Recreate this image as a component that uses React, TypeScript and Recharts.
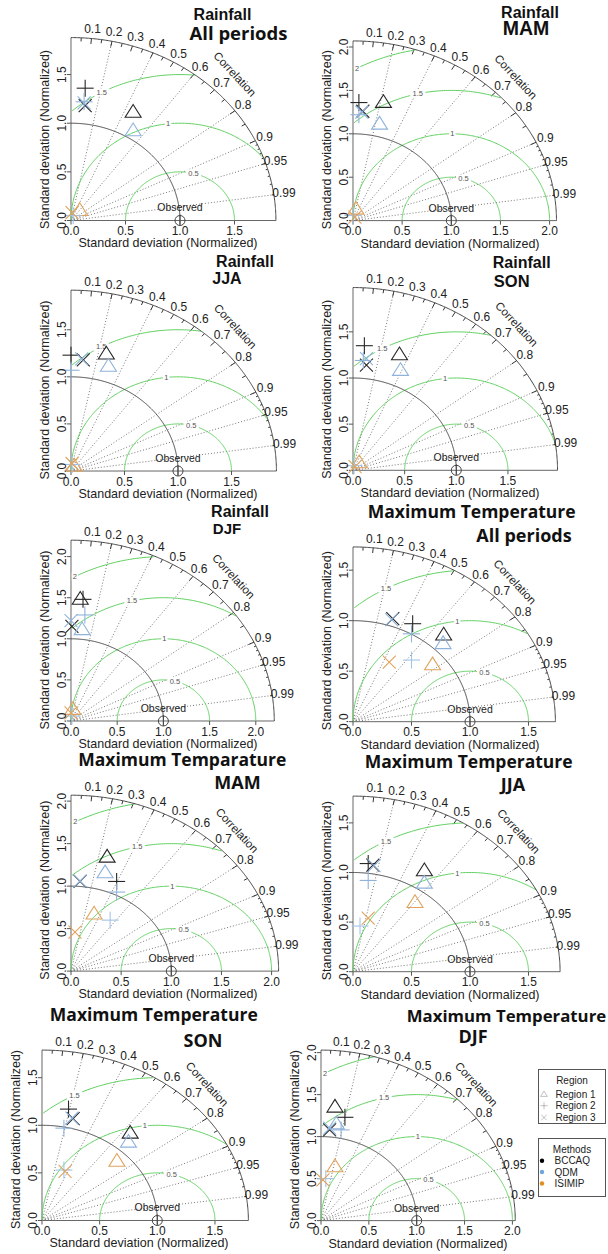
import React from 'react';
import { ComposedChart, XAxis, YAxis, Line, Scatter, ReferenceLine } from 'recharts';

type Pt = [number, number] | null;

// normalised sd components: Region 1 (triangle), Region 2 (plus), Region 3 (cross)
const rainAllBccaq: Pt[] = [[0.57, 1.12], [0.13, 1.36], [0.13, 1.18]];
const rainAllQdm: Pt[] = [[0.57, 0.93], [0.12, 1.22], [0.12, 1.21]];
const rainAllIsimip: Pt[] = [[0.08, 0.11], [0.02, 0.05], [0.01, 0.08]];

const rainMamBccaq: Pt[] = [[0.31, 1.37], [0.06, 1.36], [0.1, 1.26]];
const rainMamQdm: Pt[] = [[0.27, 1.12], [0.06, 1.22], [0.09, 1.25]];
const rainMamIsimip: Pt[] = [[0.03, 0.14], [0.0, 0.06], [0.02, 0.04]];

const rainJjaBccaq: Pt[] = [[0.33, 1.25], [0.0, 1.23], [0.115, 1.18]];
const rainJjaQdm: Pt[] = [[0.35, 1.12], [0.0, 1.07], [0.1, 1.19]];
const rainJjaIsimip: Pt[] = [[0.03, 0.06], [0.01, 0.07], [0.01, 0.08]];

const rainSonBccaq: Pt[] = [[0.45, 1.26], [0.11, 1.35], [0.13, 1.14]];
const rainSonQdm: Pt[] = [[0.46, 1.09], [0.1, 1.19], [0.13, 1.21]];
const rainSonIsimip: Pt[] = [[0.06, 0.09], [0.01, 0.05], [0.02, 0.04]];

const rainDjfBccaq: Pt[] = [[0.1, 1.49], [0.13, 1.48], [0.01, 1.15]];
const rainDjfQdm: Pt[] = [[0.12, 1.12], [0.15, 1.29], [0.0, 1.22]];
const rainDjfIsimip: Pt[] = [[0.02, 0.15], [0.01, 0.06], [0.0, 0.1]];

const tmaxAllBccaq: Pt[] = [[0.775, 0.865], [0.51, 0.97], [0.34, 1.02]];
const tmaxAllQdm: Pt[] = [[0.77, 0.78], [0.5, 0.87], [0.33, 1.01]];
const tmaxAllIsimip: Pt[] = [[0.68, 0.57], [0.5, 0.61], [0.31, 0.59]];

const tmaxMamBccaq: Pt[] = [[0.36, 1.35], [0.455, 1.055], [0.09, 1.055]];
const tmaxMamQdm: Pt[] = [[0.34, 1.165], [0.455, 0.93], [0.09, 1.06]];
const tmaxMamIsimip: Pt[] = [[0.23, 0.68], [0.39, 0.6], [0.04, 0.46]];

const tmaxJjaBccaq: Pt[] = [[0.61, 1.025], [0.13, 1.09], [0.17, 1.075]];
const tmaxJjaQdm: Pt[] = [[0.61, 0.9], [0.13, 0.92], [0.18, 1.07]];
const tmaxJjaIsimip: Pt[] = [[0.53, 0.705], [0.06, 0.46], [0.13, 0.54]];

const tmaxSonBccaq: Pt[] = [[0.765, 0.925], [0.23, 1.17], [0.27, 1.07]];
const tmaxSonQdm: Pt[] = [[0.75, 0.83], [0.19, 0.97], [0.26, 1.075]];
const tmaxSonIsimip: Pt[] = [[0.65, 0.63], [0.19, 0.53], [0.2, 0.515]];

const tmaxDjfBccaq: Pt[] = [[0.146, 1.36], [0.25, 1.23], [0.09, 1.08]];
const tmaxDjfQdm: Pt[] = [[0.16, 1.16], [0.21, 1.08], [0.09, 1.1]];
const tmaxDjfIsimip: Pt[] = [[0.146, 0.65], [0.05, 0.5], [0.02, 0.485]];

const corrLabels = [0.1, 0.2, 0.3, 0.4, 0.5, 0.6, 0.7, 0.8, 0.9, 0.95, 0.99];
const corrBig = [0.1, 0.2, 0.3, 0.4, 0.5, 0.6, 0.7, 0.8, 0.9];
const corrMed = [0.05, 0.15, 0.25, 0.35, 0.45, 0.55, 0.65, 0.75, 0.85, 0.95];
const corrSmall = [0.91, 0.92, 0.93, 0.94, 0.95, 0.96, 0.97, 0.98, 0.99];
const corrRays = [0.2, 0.4, 0.6, 0.8, 0.9, 0.95, 0.99];

const regionNames = ['Region 1', 'Region 2', 'Region 3'];
const methodNames = ['BCCAQ', 'QDM', 'ISIMIP'];

const FONT = '"Liberation Sans", Arial, sans-serif';
const TITLE_FONT = '"Open Sans", "Noto Sans", sans-serif';
const GREEN = '#5fcf5f';
const markerColors = [
  ['#262626', '#262626', '#262626'],
  ['#8fb3db', '#8fb3db', '#8fb3db'],
  ['#e0a25c', '#a3c3e6', '#e0a25c'],
];
const legendDots = ['#000000', '#6fa6dc', '#e08e1f'];

const panels = [
  { ox: 71, oy: 220.7, sx: 109, sy: 97.3, max: 1.88, ticks: [0, 0.5, 1, 1.5], gammas: [0.5, 1, 1.5], series: [rainAllBccaq, rainAllQdm, rainAllIsimip] },
  { ox: 353.3, oy: 220.7, sx: 98.3, sy: 86.8, max: 2.07, ticks: [0, 0.5, 1, 1.5, 2], gammas: [0.5, 1, 1.5, 2], series: [rainMamBccaq, rainMamQdm, rainMamIsimip] },
  { ox: 71, oy: 470.7, sx: 107, sy: 94.2, max: 1.92, ticks: [0, 0.5, 1, 1.5], gammas: [0.5, 1, 1.5], series: [rainJjaBccaq, rainJjaQdm, rainJjaIsimip] },
  { ox: 353.3, oy: 470, sx: 103.3, sy: 92.3, max: 1.98, ticks: [0, 0.5, 1, 1.5], gammas: [0.5, 1, 1.5], series: [rainSonBccaq, rainSonQdm, rainSonIsimip] },
  { ox: 71, oy: 720.7, sx: 92.4, sy: 82.2, max: 2.2, ticks: [0, 0.5, 1, 1.5, 2], gammas: [0.5, 1, 1.5, 2], series: [rainDjfBccaq, rainDjfQdm, rainDjfIsimip] },
  { ox: 353.3, oy: 721.7, sx: 117, sy: 101, max: 1.73, ticks: [0, 0.5, 1, 1.5], gammas: [0.5, 1, 1.5], series: [tmaxAllBccaq, tmaxAllQdm, tmaxAllIsimip] },
  { ox: 71, oy: 970.7, sx: 100.3, sy: 85, max: 2.07, ticks: [0, 0.5, 1, 1.5, 2], gammas: [0.5, 1, 1.5, 2], series: [tmaxMamBccaq, tmaxMamQdm, tmaxMamIsimip] },
  { ox: 353.3, oy: 971.7, sx: 117, sy: 99.2, max: 1.77, ticks: [0, 0.5, 1, 1.5], gammas: [0.5, 1, 1.5], series: [tmaxJjaBccaq, tmaxJjaQdm, tmaxJjaIsimip] },
  { ox: 41.7, oy: 1220.7, sx: 115.3, sy: 95.2, max: 1.79, ticks: [0, 0.5, 1, 1.5], gammas: [0.5, 1, 1.5], series: [tmaxSonBccaq, tmaxSonQdm, tmaxSonIsimip] },
  { ox: 321, oy: 1220.7, sx: 95.7, sy: 84, max: 2.03, ticks: [0, 0.5, 1, 1.5, 2], gammas: [0.5, 1, 1.5, 2], series: [tmaxDjfBccaq, tmaxDjfQdm, tmaxDjfIsimip] },
];

// panel headings: text, centre x, baseline y, size, font
const titles: [string, number, number, number, string][] = [
  ['Rainfall', 222.5, 20, 16, FONT],
  ['All periods', 238.5, 40, 18.5, TITLE_FONT],
  ['Rainfall', 530, 17.5, 16, FONT],
  ['MAM', 526, 35, 19.5, FONT],
  ['Rainfall', 245, 266.5, 16, FONT],
  ['JJA', 227, 283.5, 16, FONT],
  ['Rainfall', 521.7, 268.3, 16, FONT],
  ['SON', 511.7, 286.7, 16.5, FONT],
  ['Rainfall', 240, 517.3, 16, FONT],
  ['DJF', 227, 534.3, 15, FONT],
  ['Maximum Temperature', 471.7, 517.5, 17.5, TITLE_FONT],
  ['All periods', 524, 541.7, 18, TITLE_FONT],
  ['Maximum Temparature', 182.3, 766, 17.5, TITLE_FONT],
  ['MAM', 237.5, 789.3, 18, TITLE_FONT],
  ['Maximum Temperature', 468.7, 767.5, 17.5, TITLE_FONT],
  ['JJA', 513, 790.7, 18, TITLE_FONT],
  ['Maximum Temperature', 153.8, 1021, 17.5, TITLE_FONT],
  ['SON', 203, 1046.7, 18, TITLE_FONT],
  ['Maximum Temperature', 506.5, 1021.7, 16.8, TITLE_FONT],
  ['DJF', 473, 1043.3, 18, TITLE_FONT],
];

function arcPoints(cx: number, r: number, a0: number, a1: number, max: number) {
  const pts: { x: number; y: number }[] = [];
  const n = 240;
  for (let i = 0; i <= n; i++) {
    const t = a0 + ((a1 - a0) * i) / n;
    const x = cx + r * Math.cos(t);
    const y = r * Math.sin(t);
    if (x >= -1e-9 && x * x + y * y <= max * max + 1e-9) pts.push({ x: Math.max(0, x), y });
  }
  return pts;
}

function Glyph({ cx, cy, kind, color }: { cx: number; cy: number; kind: number; color: string }) {
  if (cx == null || cy == null) return null;
  if (kind === 0) {
    return (
      <polygon
        points={`${cx},${cy - 7} ${cx - 8},${cy + 5.7} ${cx + 8},${cy + 5.7}`}
        fill="none"
        stroke={color}
        strokeWidth={1.1}
      />
    );
  }
  if (kind === 1) {
    return (
      <g stroke={color} strokeWidth={1.1}>
        <line x1={cx - 8.5} y1={cy} x2={cx + 8.5} y2={cy} />
        <line x1={cx} y1={cy - 8.5} x2={cx} y2={cy + 8.5} />
      </g>
    );
  }
  return (
    <g stroke={color} strokeWidth={1.1}>
      <line x1={cx - 6.5} y1={cy - 6.5} x2={cx + 6.5} y2={cy + 6.5} />
      <line x1={cx - 6.5} y1={cy + 6.5} x2={cx + 6.5} y2={cy - 6.5} />
    </g>
  );
}

const YTick = (props: any) => {
  const { x, y, payload } = props;
  const px = x + 1;
  return (
    <text x={px} y={y} transform={`rotate(-90, ${px}, ${y})`} textAnchor="middle" fontSize={12} fill="#222" fontFamily={FONT}>
      {Number(payload.value).toFixed(1)}
    </text>
  );
};

function TaylorPanel({ p }: { p: (typeof panels)[number] }) {
  const D = p.max * 1.2;
  const YW = 40;
  const XH = 40;
  const plotW = D * p.sx;
  const plotH = D * p.sy;
  const m = p.max;

  const outer = arcPoints(0, m, 0, Math.PI / 2, m);
  const refArc = arcPoints(0, 1, 0, Math.PI / 2, m);
  const gammaArcs = p.gammas.map((g) => arcPoints(1, g, 0, Math.PI, m));

  const ng = p.gammas.length;
  const gammaLabels = p.gammas
    .map((g, i) => {
      const pos = Math.trunc(45 + ((70 - 45) * i) / (ng - 1));
      const t = (pos - 1) * 0.03;
      return { x: 1 + g * Math.cos(t), y: g * Math.sin(t), t: String(g) };
    })
    .filter((d) => d.x > 0);

  const corrText = corrLabels.map((c) => ({
    x: 1.05 * m * c,
    y: 1.05 * m * Math.sqrt(1 - c * c),
    t: String(c),
  }));

  const tickSeg = (c: number, f: number) => [
    { x: m * c, y: m * Math.sqrt(1 - c * c) },
    { x: f * m * c, y: f * m * Math.sqrt(1 - c * c) },
  ];

  const textShape = (size: number, color: string, boxed = false) => (props: any) => {
    const { cx, cy } = props;
    const t = props.payload?.t ?? props.t;
    if (cx == null) return null;
    return (
      <g>
        {boxed && <rect x={cx - t.length * 2.2 - 1} y={cy - 4} width={t.length * 4.4 + 2} height={8} fill="#fff" />}
        <text x={cx} y={cy} textAnchor="middle" dominantBaseline="central" fontSize={size} fill={color} fontFamily={FONT}>
          {t}
        </text>
      </g>
    );
  };

  return (
    <div style={{ position: 'absolute', left: p.ox - YW, top: p.oy - plotH }}>
      <ComposedChart width={YW + plotW} height={plotH + XH} margin={{ top: 0, right: 0, bottom: 0, left: 0 }}>
        <XAxis
          type="number"
          dataKey="x"
          domain={[0, D]}
          ticks={p.ticks}
          axisLine={false}
          tickSize={4}
          tickLine={{ stroke: '#555' }}
          tick={{ fontSize: 12, fill: '#222', fontFamily: FONT }}
          tickFormatter={(v: number) => v.toFixed(1)}
          height={XH}
          label={(lp: any) => {
            const vb = lp.viewBox;
            if (!vb) return null;
            return (
              <text x={vb.x + 97} y={vb.y + 23} textAnchor="middle" dominantBaseline="central" fontSize={12.5} fill="#222" fontFamily={FONT}>
                Standard deviation (Normalized)
              </text>
            );
          }}
        />
        <YAxis
          type="number"
          dataKey="y"
          domain={[0, D]}
          ticks={p.ticks}
          axisLine={false}
          tickSize={4}
          tickLine={{ stroke: '#555' }}
          tick={<YTick />}
          width={YW}
          label={(lp: any) => {
            const vb = lp.viewBox;
            if (!vb) return null;
            const tx = vb.x + vb.width - 21.5;
            const ty = vb.y + vb.height - 81;
            return (
              <text x={tx} y={ty} transform={`rotate(-90, ${tx}, ${ty})`} textAnchor="middle" fontSize={12.5} fill="#222" fontFamily={FONT}>
                Standard deviation (Normalized)
              </text>
            );
          }}
        />

        <ReferenceLine segment={[{ x: 0, y: 0 }, { x: m, y: 0 }]} stroke="#666" />
        <ReferenceLine segment={[{ x: 0, y: 0 }, { x: 0, y: m }]} stroke="#666" />
        {corrRays.map((c) => (
          <ReferenceLine
            key={`ray${c}`}
            segment={[{ x: 0, y: 0 }, { x: m * c, y: m * Math.sqrt(1 - c * c) }]}
            stroke="#777"
            strokeDasharray="1 2"
          />
        ))}
        {corrBig.map((c) => (
          <ReferenceLine key={`b${c}`} segment={tickSeg(c, 0.97)} stroke="#333" />
        ))}
        {corrMed.map((c) => (
          <ReferenceLine key={`m${c}`} segment={tickSeg(c, 0.98)} stroke="#333" />
        ))}
        {corrSmall.map((c) => (
          <ReferenceLine key={`s${c}`} segment={tickSeg(c, 0.99)} stroke="#333" />
        ))}

        {gammaArcs.map((arc, i) => (
          <Line key={`g${i}`} data={arc} dataKey="y" stroke={GREEN} strokeWidth={1} dot={false} isAnimationActive={false} />
        ))}
        <Line data={refArc} dataKey="y" stroke="#444" strokeWidth={1} dot={false} isAnimationActive={false} />
        <Line data={outer} dataKey="y" stroke="#444" strokeWidth={1} dot={false} isAnimationActive={false} />

        <Scatter data={gammaLabels} shape={textShape(7.5, '#555', true)} isAnimationActive={false} />
        <Scatter data={corrText} shape={textShape(12, '#222')} isAnimationActive={false} />
        <Scatter
          data={[{ x: 0.8 * m, y: 0.8 * m, t: 'Correlation' }]}
          isAnimationActive={false}
          shape={(sp: any) => (
            <text
              x={sp.cx}
              y={sp.cy}
              transform={`rotate(47, ${sp.cx}, ${sp.cy})`}
              textAnchor="middle"
              dominantBaseline="central"
              fontSize={11.5}
              fill="#222"
              fontFamily={FONT}
            >
              Correlation
            </text>
          )}
        />
        <Scatter
          data={[{ x: 1, y: 0 }]}
          isAnimationActive={false}
          shape={(sp: any) => (
            <g>
              <circle cx={sp.cx} cy={sp.cy} r={5} fill="none" stroke="#444" />
              <line x1={sp.cx} y1={sp.cy - 6} x2={sp.cx} y2={sp.cy + 5} stroke="#444" />
              <text x={sp.cx} y={sp.cy - 9} textAnchor="middle" fontSize={10.5} fill="#222" fontFamily={FONT}>
                Observed
              </text>
            </g>
          )}
        />

        {p.series.map((pts, mi) =>
          pts.map((pt, ri) =>
            pt ? (
              <Scatter
                key={`${methodNames[mi]}-${regionNames[ri]}`}
                name={`${methodNames[mi]} ${regionNames[ri]}`}
                data={[{ x: pt[0], y: pt[1] }]}
                isAnimationActive={false}
                shape={(sp: any) => <Glyph cx={sp.cx} cy={sp.cy} kind={ri} color={markerColors[mi][ri]} />}
              />
            ) : null
          )
        )}
      </ComposedChart>
    </div>
  );
}

function Legends() {
  const rowsY = [1094, 1105.7, 1117.5];
  const methY = [1160.7, 1172, 1183.5];
  return (
    <g fontFamily={FONT} fontSize={10} fill="#222">
      <rect x={538.5} y={1069.5} width={67} height={54} fill="#fff" stroke="#555" />
      <text x={572} y={1080} textAnchor="middle" dominantBaseline="central">Region</text>
      {regionNames.map((r, i) => (
        <g key={r}>
          <g transform={`translate(544, ${rowsY[i]}) scale(0.42) translate(-544, ${-rowsY[i]})`}>
            <Glyph cx={544} cy={rowsY[i]} kind={i} color="#777" />
          </g>
          <text x={555.5} y={rowsY[i]} dominantBaseline="central">{r}</text>
        </g>
      ))}
      <rect x={538.5} y={1138.5} width={67} height={58} fill="#fff" stroke="#555" />
      <text x={572} y={1149.5} textAnchor="middle" dominantBaseline="central">Methods</text>
      {methodNames.map((mth, i) => (
        <g key={mth}>
          <circle cx={542} cy={methY[i]} r={2.2} fill={legendDots[i]} />
          <text x={554.5} y={methY[i]} dominantBaseline="central">{mth}</text>
        </g>
      ))}
    </g>
  );
}

export default function App() {
  return (
    <div style={{ position: 'absolute', left: 0, top: 0, width: 608, height: 1254, background: '#fff', overflow: 'hidden' }}>
      <svg width={608} height={1254} style={{ position: 'absolute', left: 0, top: 0 }}>
        {titles.map(([t, x, y, size, font], i) => (
          <text key={i} x={x} y={y} textAnchor="middle" fontSize={size} fontWeight={700} fontFamily={font} fill="#111">
            {t}
          </text>
        ))}
      </svg>
      {panels.map((p, i) => (
        <TaylorPanel key={i} p={p} />
      ))}
      <svg width={608} height={1254} style={{ position: 'absolute', left: 0, top: 0, pointerEvents: 'none' }}>
        <Legends />
      </svg>
    </div>
  );
}
